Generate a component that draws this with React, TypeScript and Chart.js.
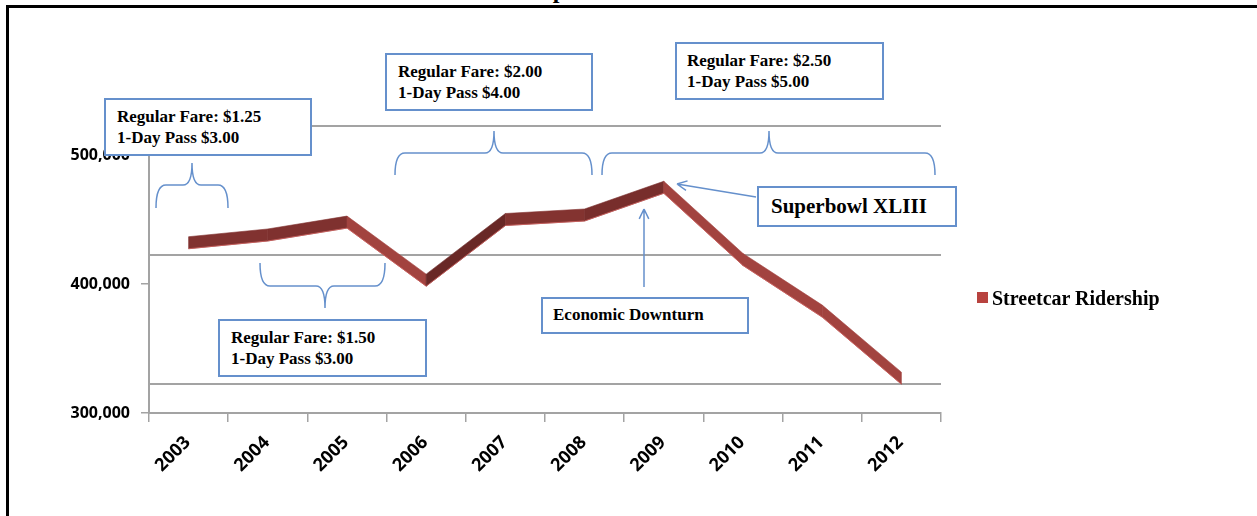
import React, { useEffect, useRef } from "react";
import { Chart, registerables } from "chart.js";

Chart.register(...registerables);

// ---------- data ----------
const YEARS = ["2003", "2004", "2005", "2006", "2007", "2008", "2009", "2010", "2011", "2012"];
const RIDERSHIP = [432000, 438000, 448000, 403000, 450000, 453500, 475000, 419000, 379000, 327000];
const Y_TICKS = [300000, 400000, 500000];
const SERIES_LABEL = "Streetcar Ridership";
const TITLE_TEXT = "Streetcar Ridership";

const NOTE_FARE_125 = ["Regular Fare: $1.25", "1-Day Pass $3.00"];
const NOTE_FARE_150 = ["Regular Fare: $1.50", "1-Day Pass $3.00"];
const NOTE_FARE_200 = ["Regular Fare: $2.00", "1-Day Pass $4.00"];
const NOTE_FARE_250 = ["Regular Fare: $2.50", "1-Day Pass $5.00"];
const NOTE_DOWNTURN = ["Economic Downturn"];
const NOTE_SUPERBOWL = ["Superbowl XLIII"];

// ---------- layout / style (annotation shapes, like Excel text boxes) ----------
const W = 1257;
const H = 516;
const DEPTH = 29; // 3-D back-wall offset of gridlines
const RIBBON_HALF = 6;
const BLUE = "#6590cc";
const GRID = "#a3a3a3";
const SERIF = "'Liberation Serif', 'Times New Roman', serif";
const SANS = "'Open Sans', 'Liberation Sans', sans-serif";

type Box = { lines: string[]; left: number; top: number; width: number; height: number; size: number; lh: number; pl: number; pt: number };
const BOXES: Box[] = [
  { lines: NOTE_FARE_125, left: 104, top: 98, width: 208, height: 58, size: 17, lh: 21, pl: 11, pt: 6 },
  { lines: NOTE_FARE_200, left: 385, top: 53, width: 208, height: 58, size: 17, lh: 21, pl: 11, pt: 6 },
  { lines: NOTE_FARE_250, left: 675, top: 42, width: 209, height: 58, size: 17, lh: 21, pl: 10, pt: 6 },
  { lines: NOTE_FARE_150, left: 218, top: 319, width: 209, height: 58, size: 17, lh: 21, pl: 11, pt: 6 },
  { lines: NOTE_DOWNTURN, left: 541, top: 297, width: 208, height: 37, size: 17, lh: 21, pl: 10, pt: 5 },
  { lines: NOTE_SUPERBOWL, left: 757, top: 186, width: 200, height: 41, size: 21, lh: 24, pl: 12, pt: 6 },
];

// braces: x1, x2, tip x, y at ends, y of the bar, y of tip
const BRACES = [
  [156, 228, 192, 208, 185, 163],
  [260, 385, 325, 263, 286, 308],
  [395, 592, 494, 175, 153, 131],
  [602, 935, 769, 175, 153, 131],
];
// arrows: from -> to (tip)
const ARROWS = [
  [756, 197, 677, 184],
  [644, 287, 644, 209],
];

function hex(c: string) {
  return [1, 3, 5].map((i) => parseInt(c.slice(i, i + 2), 16));
}
function mix(a: string, b: string, t: number) {
  const A = hex(a), B = hex(b);
  const r = A.map((v, i) => Math.round(v + (B[i] - v) * t));
  return `rgb(${r[0]},${r[1]},${r[2]})`;
}
function shade(slope: number) {
  if (slope < 0) return mix("#853431", "#682725", Math.min(1, -slope / 0.8));
  return mix("#853431", "#a2433f", Math.min(1, slope / 0.5));
}

const backWallPlugin = {
  id: "backWall",
  beforeDatasetsDraw(chart: any) {
    const { ctx, chartArea, scales } = chart;
    const y = scales.y;
    ctx.save();
    ctx.strokeStyle = GRID;
    ctx.lineWidth = 2;
    for (const v of Y_TICKS) {
      const py = Math.round(y.getPixelForValue(v) - DEPTH);
      ctx.beginPath();
      ctx.moveTo(chartArea.left, py);
      ctx.lineTo(chartArea.right, py);
      ctx.stroke();
    }
    ctx.restore();
  },
};

const ribbonPlugin = {
  id: "ribbon",
  afterDatasetsDraw(chart: any) {
    const { ctx } = chart;
    const meta = chart.getDatasetMeta(0);
    const pts = meta.data.map((p: any) => ({ x: p.x, y: p.y }));
    const h = RIBBON_HALF;
    ctx.save();
    for (let i = 0; i < pts.length - 1; i++) {
      const a = pts[i], b = pts[i + 1];
      const s = (b.y - a.y) / (b.x - a.x);
      const col = shade(s);
      ctx.fillStyle = col;
      ctx.strokeStyle = col;
      ctx.lineWidth = 0.6;
      ctx.beginPath();
      ctx.moveTo(a.x, a.y - h);
      ctx.lineTo(b.x, b.y - h);
      ctx.lineTo(b.x, b.y + h);
      ctx.lineTo(a.x, a.y + h);
      ctx.closePath();
      ctx.fill();
      ctx.stroke();
      ctx.strokeStyle = "rgba(205,95,92,0.8)";
      ctx.lineWidth = 1;
      ctx.beginPath();
      ctx.moveTo(a.x, a.y + h);
      ctx.lineTo(b.x, b.y + h);
      ctx.stroke();
    }
    ctx.restore();
  },
};

const annotationPlugin = {
  id: "notes",
  afterDraw(chart: any) {
    const { ctx } = chart;
    ctx.save();
    ctx.strokeStyle = BLUE;
    ctx.lineWidth = 1.5;
    for (const [x1, x2, xt, ye, ym, yt] of BRACES) {
      const r = 10;
      const rt = 9;
      ctx.beginPath();
      ctx.moveTo(x1, ye);
      ctx.quadraticCurveTo(x1, ym, x1 + r, ym);
      ctx.lineTo(xt - rt, ym);
      ctx.quadraticCurveTo(xt, ym, xt, yt);
      ctx.quadraticCurveTo(xt, ym, xt + rt, ym);
      ctx.lineTo(x2 - r, ym);
      ctx.quadraticCurveTo(x2, ym, x2, ye);
      ctx.stroke();
    }
    for (const [fx, fy, tx, ty] of ARROWS) {
      ctx.beginPath();
      ctx.moveTo(fx, fy);
      ctx.lineTo(tx, ty);
      const ang = Math.atan2(ty - fy, tx - fx);
      const L = 11;
      for (const d of [-0.45, 0.45]) {
        ctx.moveTo(tx, ty);
        ctx.lineTo(tx - L * Math.cos(ang + d), ty - L * Math.sin(ang + d));
      }
      ctx.stroke();
    }
    ctx.restore();
  },
};

function ChartCanvas() {
  const ref = useRef<HTMLCanvasElement | null>(null);
  useEffect(() => {
    if (!ref.current) return;
    const chart = new Chart(ref.current, {
      type: "line",
      data: {
        labels: YEARS,
        datasets: [
          {
            label: SERIES_LABEL,
            data: RIDERSHIP,
            showLine: false,
            pointRadius: 0,
            borderColor: "#b8433f",
            backgroundColor: "#b8433f",
          },
        ],
      },
      options: {
        responsive: false,
        animation: false,
        devicePixelRatio: 1,
        events: [],
        layout: { padding: { left: 20, right: W - 941, top: 155, bottom: 23 } },
        plugins: {
          legend: { display: false },
          tooltip: { enabled: false },
          title: { display: false },
        },
        scales: {
          x: {
            type: "category",
            offset: true,
            grid: { offset: true, drawOnChartArea: false, drawTicks: true, tickLength: 9, color: GRID, lineWidth: 1.5 },
            border: { display: true, color: GRID, width: 2 },
            ticks: {
              autoSkip: false,
              minRotation: 45,
              maxRotation: 45,
              padding: 10,
              labelOffset: -1,
              color: "#000",
              font: { family: SANS, weight: 700, size: 18 },
            },
            afterFit: (s: any) => {
              s.height = 80;
            },
          },
          y: {
            min: 300000,
            max: 500000,
            afterBuildTicks: (s: any) => {
              s.ticks = Y_TICKS.map((v) => ({ value: v }));
            },
            grid: { drawOnChartArea: false, drawTicks: true, tickLength: 8, color: GRID, lineWidth: 1.5 },
            border: { display: true, color: GRID, width: 2 },
            ticks: {
              padding: 11,
              color: "#000",
              font: { family: SANS, weight: 700, size: 16 },
              callback: (v: any) => Number(v).toLocaleString("en-US"),
            },
            afterFit: (s: any) => {
              s.width = 129;
            },
          },
        },
      } as any,
      plugins: [backWallPlugin, ribbonPlugin, annotationPlugin],
    });
    return () => chart.destroy();
  }, []);
  return <canvas ref={ref} width={W} height={H} style={{ position: "absolute", left: 0, top: 0, width: W, height: H }} />;
}

export default function App() {
  return (
    <div style={{ position: "fixed", left: 0, top: 0, width: W, height: H, overflow: "hidden", background: "#fff" }}>
      <div
        style={{
          position: "absolute",
          left: 300,
          top: -22,
          width: 266,
          textAlign: "right",
          fontFamily: SERIF,
          fontWeight: "bold",
          fontSize: 24,
          lineHeight: "24px",
          whiteSpace: "nowrap",
          color: "#000",
        }}
      >
        {TITLE_TEXT}
      </div>
      <div
        style={{
          position: "absolute",
          left: 6,
          top: 5,
          width: 1400,
          height: 700,
          borderTop: "3px solid #000",
          borderLeft: "3px solid #000",
        }}
      />
      <ChartCanvas />
      {BOXES.map((b, i) => (
        <div
          key={i}
          style={{
            position: "absolute",
            left: b.left,
            top: b.top,
            width: b.width,
            height: b.height,
            boxSizing: "border-box",
            border: `2px solid ${BLUE}`,
            background: "#fff",
            paddingLeft: b.pl,
            paddingTop: b.pt,
            fontFamily: SERIF,
            fontWeight: "bold",
            fontSize: b.size,
            lineHeight: `${b.lh}px`,
            color: "#000",
            whiteSpace: "nowrap",
          }}
        >
          {b.lines.map((l, j) => (
            <div key={j}>{l}</div>
          ))}
        </div>
      ))}
      <div style={{ position: "absolute", left: 977, top: 292, width: 11, height: 11, background: "#b8433f" }} />
      <div
        style={{
          position: "absolute",
          left: 992,
          top: 286,
          fontFamily: SERIF,
          fontWeight: "bold",
          fontSize: 20,
          lineHeight: "24px",
          whiteSpace: "nowrap",
          color: "#000",
        }}
      >
        {SERIES_LABEL}
      </div>
    </div>
  );
}
